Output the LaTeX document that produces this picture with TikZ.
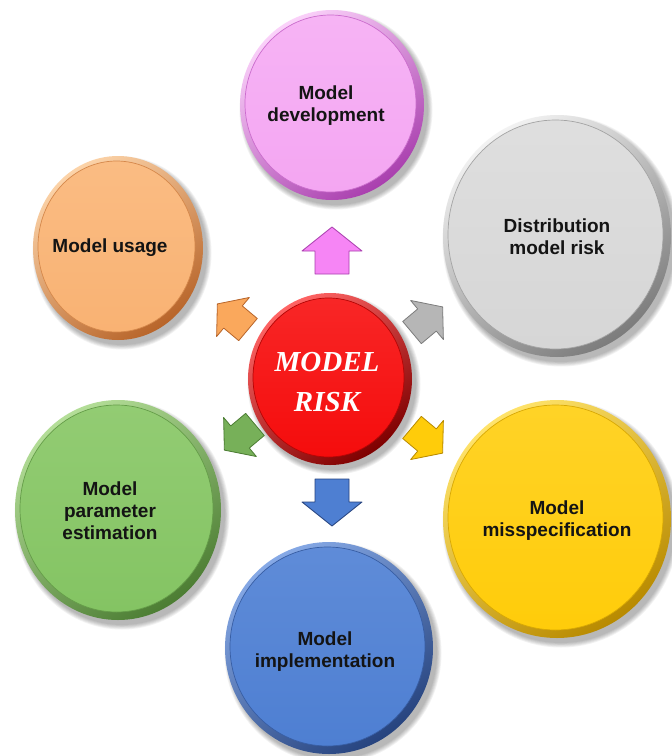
\documentclass[tikz,border=0pt]{standalone}
\usepackage{fontspec}
\setmainfont{Liberation Sans}
\newfontfamily\riskfont{Liberation Serif}
\usetikzlibrary{shapes.geometric}

% button colours: face, light edge, dark edge
\definecolor{pinkF}{HTML}{F4A6F2}\definecolor{pinkL}{HTML}{FBD2FA}\definecolor{pinkD}{HTML}{A93FAE}
\definecolor{grayF}{HTML}{D6D6D6}\definecolor{grayL}{HTML}{F2F2F2}\definecolor{grayD}{HTML}{7C7C7C}
\definecolor{yellF}{HTML}{FFCC0A}\definecolor{yellL}{HTML}{FFE36A}\definecolor{yellD}{HTML}{B88A00}
\definecolor{blueF}{HTML}{4E7FD2}\definecolor{blueL}{HTML}{86A9E6}\definecolor{blueD}{HTML}{26437E}
\definecolor{grenF}{HTML}{84C463}\definecolor{grenL}{HTML}{B4DE98}\definecolor{grenD}{HTML}{4C7D33}
\definecolor{orngF}{HTML}{F9B273}\definecolor{orngL}{HTML}{FCD3A8}\definecolor{orngD}{HTML}{B8652A}
\definecolor{redF}{HTML}{F50C0C}\definecolor{redL}{HTML}{FF6464}\definecolor{redD}{HTML}{7E0000}

% #1 name, #2 cx, #3 cy, #4 rx, #5 ry, #6 face, #7 light, #8 dark
\newcommand\drawbutton[8]{%
  \foreach \k in {0,...,5}{
    \fill[black,opacity=0.05] ({#2+4},{#3+5}) ellipse ({#4+\k*0.9} and {#5+\k*0.9});
  }
  \shade[top color=#7, bottom color=#8, shading angle=35] (#2,#3) ellipse (#4 and #5);
  \node[ellipse, inner sep=0pt, minimum width={2*#4-13}, minimum height={2*#5-13},
        top color=#7!30!#6, bottom color=#6, draw=#8!55!#6, line width=0.7pt]
        (#1) at ({#2-1.5},{#3-1.5}) {};
}

% #1 cx, #2 cy, #3 angle, #4 fill, #5 edge, #6 scale
\newcommand\drawblockarrow[6]{%
  \begin{scope}[shift={(#1,#2)}, rotate=#3, scale=#6]
    \filldraw[fill=#4, draw=#5, line width=0.8pt, line join=round]
      (-23,-17) -- (0,-17) -- (0,-30) -- (24,0) -- (0,30) -- (0,17) -- (-23,17) -- cycle;
  \end{scope}
}

\begin{document}
\begin{tikzpicture}[x=1pt,y=-1pt,
  labeltext/.style={font=\bfseries\fontsize{19}{22}\selectfont, align=center,
                    text=black!92, inner sep=0pt},
  risktext/.style={font=\riskfont\bfseries\itshape\fontsize{29}{40}\selectfont,
                   align=center, inner sep=0pt, text=white}]
\useasboundingbox (0,0) rectangle (672,756);
\fill[white] (0,0) rectangle (672,756);

% outer buttons
\drawbutton{dev}{332}{105}{92}{95}{pinkF}{pinkL}{pinkD}
\drawbutton{dist}{557}{236}{114}{121}{grayF}{grayL}{grayD}
\drawbutton{miss}{557}{519}{114}{119}{yellF}{yellL}{yellD}
\drawbutton{impl}{329}{648}{104}{106}{blueF}{blueL}{blueD}
\drawbutton{param}{118}{510}{103}{110}{grenF}{grenL}{grenD}
\drawbutton{usage}{118}{248}{85}{92}{orngF}{orngL}{orngD}

% centre button
\drawbutton{risk}{330}{379}{82}{86}{redF}{redL}{redD}

% block arrows from the centre
\drawblockarrow{332}{251}{90}{pinkF!80!magenta}{pinkD}{1}
\drawblockarrow{427}{320}{40}{grayF!85!black}{grayD}{0.85}
\drawblockarrow{427}{440}{-40}{yellF}{yellD}{0.85}
\drawblockarrow{332}{502}{-90}{blueF}{blueD}{1}
\drawblockarrow{240}{437}{220}{grenF!90!black}{grenD}{0.85}
\drawblockarrow{233}{317}{140}{orngF!80!orange}{orngD}{0.85}

% labels
\node[labeltext] (devt) at (326,106) {Model\\development};
\node[labeltext] (distt) at (557,237) {Distribution\\model risk};
\node[labeltext] (misst) at (557,521) {Model\\misspecification};
\node[labeltext] (implt) at (325,652) {Model\\implementation};
\node[labeltext] (paramt) at (110,511) {Model\\parameter\\estimation};
\node[labeltext] (usaget) at (110,248) {Model usage};

\node[risktext] (riskt) at (327,382) {MODEL\\RISK};
\end{tikzpicture}
\end{document}
